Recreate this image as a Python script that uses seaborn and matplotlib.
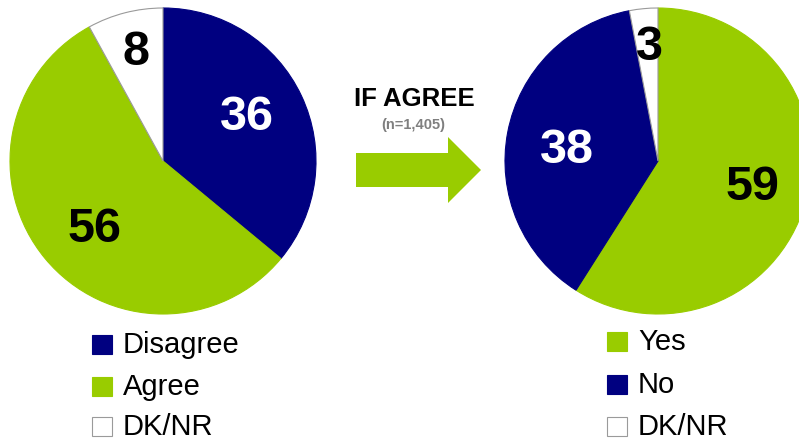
import matplotlib
matplotlib.use("Agg")
import matplotlib.pyplot as plt
from matplotlib.patches import Rectangle, FancyArrow
import seaborn as sns

# Survey shares (percent)
left_labels = ["Disagree", "Agree", "DK/NR"]
left_values = [36, 56, 8]
right_labels = ["Yes", "No", "DK/NR"]
right_values = [59, 38, 3]
bridge_title = "IF AGREE"
bridge_note = "(n=1,405)"

NAVY = "#000080"
GREEN = "#99CC00"
WHITE = "#FFFFFF"
left_colors = [NAVY, GREEN, WHITE]
right_colors = [GREEN, NAVY, WHITE]
left_text_colors = ["white", "black", "black"]
right_text_colors = ["black", "white", "black"]

sns.set_theme(style="white")
plt.rcParams["font.family"] = ["Liberation Sans", "DejaVu Sans"]

W, H = 799, 440
fig = plt.figure(figsize=(W / 100, H / 100), dpi=100)
ax = fig.add_axes([0, 0, 1, 1])


def py(y):
    """Convert a top-down pixel row to the axis y coordinate."""
    return H - y


R = 153


def draw_pie(values, colors, cx):
    wedges, _ = ax.pie(values, colors=colors, startangle=90,
                       counterclock=False, center=(cx, py(161)), radius=R,
                       wedgeprops=dict(linewidth=0.8))
    # white slices get a thin grey outline, coloured ones blend in
    for w, col in zip(wedges, colors):
        w.set_edgecolor("#9a9a9a" if col == WHITE else col)
        w.set_zorder(2 if col == WHITE else 1)


draw_pie(left_values, left_colors, 163)
draw_pie(right_values, right_colors, 658)

# Value labels: (centre x, baseline y) in pixel rows
left_pos = [(247, 130), (95, 242), (135.5, 65)]
right_pos = [(752, 200), (567, 163), (649.5, 60)]
for vals, pos, cols in ((left_values, left_pos, left_text_colors),
                        (right_values, right_pos, right_text_colors)):
    for v, (x, y), c in zip(vals, pos, cols):
        ax.text(x, py(y), f"{v}", ha="center", va="baseline", fontsize=35,
                fontweight="bold", color=c, zorder=3)

# Connecting arrow and caption
ax.text(414, py(106), bridge_title, ha="center", va="baseline", fontsize=18.5,
        fontweight="bold", color="black")
ax.text(413, py(129), bridge_note, ha="center", va="baseline", fontsize=10.5,
        fontweight="bold", color="#7f7f7f")
ax.add_patch(FancyArrow(356, py(170), 92, 0, width=34, head_width=66,
                        head_length=33, length_includes_head=False,
                        color=GREEN, linewidth=0))


def legend(x0, baselines, labels, colors):
    for (yb, lab, col) in zip(baselines, labels, colors):
        ec = "#9a9a9a" if col == WHITE else col
        ax.add_patch(Rectangle((x0, py(yb + 1)), 20, 19, facecolor=col,
                               edgecolor=ec, linewidth=0.8))
        ax.text(x0 + 31, py(yb), lab, ha="left", va="baseline", fontsize=21,
                color="black")


legend(92, [353, 395, 435], left_labels, left_colors)
legend(607, [350, 393, 435], right_labels, right_colors)

ax.set_xlim(0, W)
ax.set_ylim(0, H)
ax.set_aspect("equal")
ax.axis("off")

fig.savefig("out.png", dpi=100)
